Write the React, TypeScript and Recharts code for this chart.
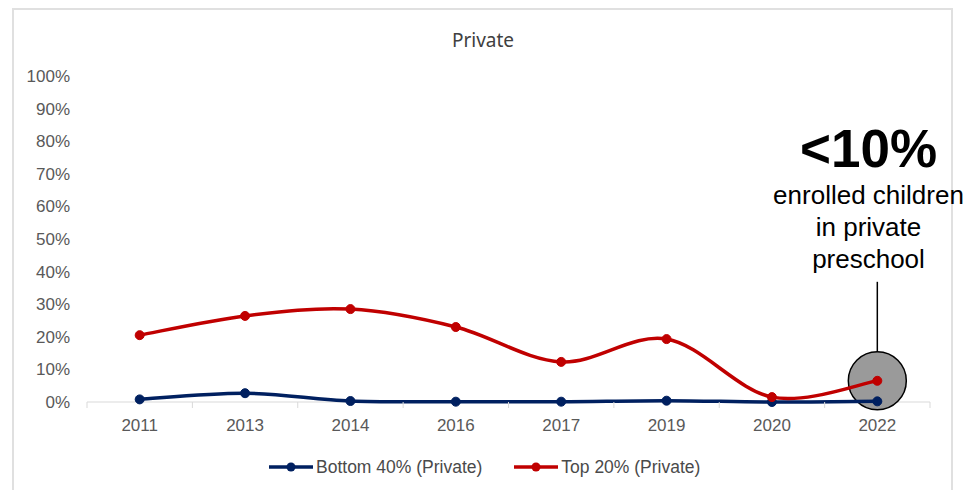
import React from 'react'
import { LineChart, Line, XAxis, YAxis, ReferenceDot } from 'recharts'

const YEARS = ['2011', '2013', '2014', '2016', '2017', '2019', '2020', '2022']
const BOTTOM_40 = [0.8, 2.7, 0.3, 0.1, 0.1, 0.4, 0.0, 0.2]
const TOP_20 = [20.5, 26.4, 28.5, 23.0, 12.3, 19.3, 1.5, 6.5]
const Y_TICKS = [0, 10, 20, 30, 40, 50, 60, 70, 80, 90, 100]

const NAVY = '#002060'
const RED = '#C00000'
const TICK_GREY = '#595959'
const AXIS_GREY = '#d9d9d9'
const FONT = '"Liberation Sans", Arial, sans-serif'

// plot area spans 843px; each year sits in the middle of its band
const PLOT_WIDTH = 843
const HALF_BAND = PLOT_WIDTH / YEARS.length / 2

const data = YEARS.map((year, i) => ({
  year,
  bottom: BOTTOM_40[i],
  top: TOP_20[i],
}))

// Excel-style smoothed line: cubic Bezier through every point,
// control points taken from the neighbouring points (Catmull-Rom, 1/6).
const smoothCurve = (ctx: any) => {
  let pts: number[][] = []
  return {
    areaStart() {},
    areaEnd() {},
    lineStart() {
      pts = []
    },
    point(x: number, y: number) {
      pts.push([+x, +y])
    },
    lineEnd() {
      if (!pts.length) return
      ctx.moveTo(pts[0][0], pts[0][1])
      for (let i = 0; i < pts.length - 1; i++) {
        const p0 = pts[i - 1] || pts[i]
        const p1 = pts[i]
        const p2 = pts[i + 1]
        const p3 = pts[i + 2] || p2
        ctx.bezierCurveTo(
          p1[0] + (p2[0] - p0[0]) / 6,
          p1[1] + (p2[1] - p0[1]) / 6,
          p2[0] - (p3[0] - p1[0]) / 6,
          p2[1] - (p3[1] - p1[1]) / 6,
          p2[0],
          p2[1],
        )
      }
    },
  }
}

// category label plus tick marks on the band boundaries
function YearTick(props: any) {
  const { x, y, payload, index } = props
  const axisY = y - 17
  return (
    <g>
      <line x1={x - HALF_BAND} x2={x - HALF_BAND} y1={axisY} y2={axisY + 6} stroke={AXIS_GREY} />
      {index === YEARS.length - 1 && (
        <line x1={x + HALF_BAND} x2={x + HALF_BAND} y1={axisY} y2={axisY + 6} stroke={AXIS_GREY} />
      )}
      <text x={x} y={y} dy="0.71em" textAnchor="middle" fill={TICK_GREY} fontSize={17} fontFamily={FONT}>
        {payload.value}
      </text>
    </g>
  )
}

// grey circle round the last point, with a stem up to the callout text
function Callout(props: any) {
  const { cx, cy } = props
  const r = 29
  return (
    <g>
      <line x1={cx} x2={cx} y1={cy - r - 70} y2={cy - r} stroke="#000" strokeWidth={1.5} />
      <circle cx={cx} cy={cy} r={r} fill="#9a9a9a" stroke="#000" strokeWidth={1.5} />
    </g>
  )
}

function LegendItem({ color, label }: { color: string; label: string }) {
  return (
    <div style={{ display: 'flex', alignItems: 'center' }}>
      <svg width={46} height={12} style={{ marginRight: 2 }}>
        <line x1={1} x2={45} y1={6} y2={6} stroke={color} strokeWidth={3.5} />
        <circle cx={23} cy={6} r={4.5} fill={color} />
      </svg>
      <span>{label}</span>
    </div>
  )
}

export default function App() {
  return (
    <div
      style={{
        position: 'absolute',
        left: 0,
        top: 0,
        width: 973,
        height: 490,
        overflow: 'hidden',
        background: '#fff',
        fontFamily: FONT,
      }}
    >
      {/* chart frame */}
      <div
        style={{
          position: 'absolute',
          left: 12,
          top: 8,
          width: 941,
          height: 600,
          border: '2px solid #e0e0e0',
          boxSizing: 'border-box',
        }}
      />

      <div
        style={{
          position: 'absolute',
          left: 383,
          top: 27,
          width: 200,
          textAlign: 'center',
          fontFamily: '"Noto Sans", "Open Sans", sans-serif',
          fontSize: 19,
          lineHeight: '26px',
          color: '#404040',
        }}
      >
        Private
      </div>

      <div style={{ position: 'absolute', left: 0, top: 0 }}>
        <LineChart width={973} height={490} data={data} margin={{ top: 76, right: 43, bottom: 58, left: 27 }}>
          <XAxis
            dataKey="year"
            height={30}
            interval={0}
            padding={{ left: HALF_BAND, right: HALF_BAND }}
            axisLine={{ stroke: AXIS_GREY }}
            tickLine={false}
            tickSize={0}
            tickMargin={17}
            tick={<YearTick />}
          />
          <YAxis
            width={60}
            domain={[0, 100]}
            ticks={Y_TICKS}
            tickFormatter={(v) => `${v}%`}
            axisLine={false}
            tickLine={false}
            tickSize={0}
            tickMargin={17}
            tick={{ fill: TICK_GREY, fontSize: 17, fontFamily: FONT }}
          />
          <ReferenceDot
            x={YEARS[YEARS.length - 1]}
            y={TOP_20[TOP_20.length - 1]}
            r={29}
            shape={<Callout />}
            zIndex={550}
          />
          <Line
            type={smoothCurve as any}
            dataKey="bottom"
            name="Bottom 40% (Private)"
            stroke={NAVY}
            strokeWidth={3.5}
            dot={{ r: 4.5, fill: NAVY, stroke: NAVY, strokeWidth: 1 }}
            activeDot={false}
            isAnimationActive={false}
            zIndex={600}
          />
          <Line
            type={smoothCurve as any}
            dataKey="top"
            name="Top 20% (Private)"
            stroke={RED}
            strokeWidth={3.5}
            dot={{ r: 4.5, fill: RED, stroke: RED, strokeWidth: 1 }}
            activeDot={false}
            isAnimationActive={false}
            zIndex={600}
          />
        </LineChart>
      </div>

      {/* legend */}
      <div
        style={{
          position: 'absolute',
          left: 268,
          top: 456,
          display: 'flex',
          gap: 31,
          fontSize: 17.5,
          lineHeight: '22px',
          color: '#4a4a4a',
        }}
      >
        <LegendItem color={NAVY} label="Bottom 40% (Private)" />
        <LegendItem color={RED} label="Top 20% (Private)" />
      </div>

      {/* callout text */}
      <div
        style={{
          position: 'absolute',
          left: 758,
          top: 119,
          width: 221,
          textAlign: 'center',
          color: '#000',
        }}
      >
        <div style={{ fontSize: 53, fontWeight: 'bold', lineHeight: '60px' }}>&lt;10%</div>
        <div style={{ fontSize: 26, lineHeight: '32px' }}>
          enrolled children
          <br />
          in private
          <br />
          preschool
        </div>
      </div>
    </div>
  )
}
